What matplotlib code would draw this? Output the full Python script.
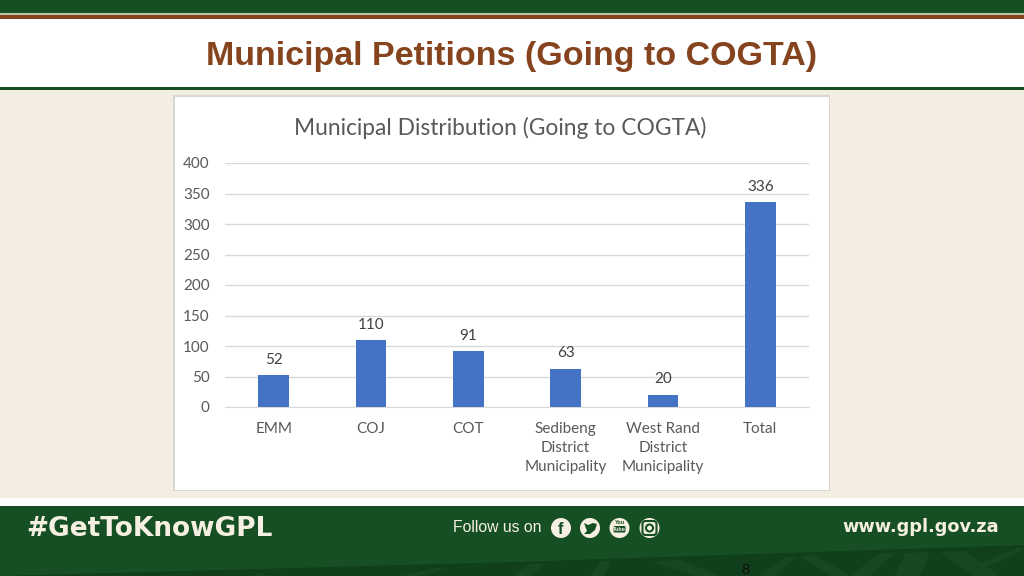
#!/usr/bin/env python

"""Municipal petitions slide: bar chart inside a green and beige slide frame."""

import matplotlib
matplotlib.use("Agg")
import matplotlib.pyplot as plt
from matplotlib.patches import Rectangle, Circle, Polygon, FancyBboxPatch

categories = ["EMM", "COJ", "COT", "Sedibeng\nDistrict\nMunicipality",
              "West Rand\nDistrict\nMunicipality", "Total"]
petitions = [52, 110, 91, 63, 20, 336]
y_ticks = [0, 50, 100, 150, 200, 250, 300, 350, 400]

GREEN = "#174f25"
DARK_GREEN = "#0f3f1b"
PATTERN = "#154822"
BROWN = "#85431e"
BEIGE = "#f4ede1"
CREAM = "#f5f0e1"
GREY = "#595959"
W, H = 1024, 576

fig = plt.figure(figsize=(10.24, 5.76), dpi=100, facecolor="white")

# slide frame, drawn in pixel coordinates
bg = fig.add_axes([0, 0, 1, 1])
bg.set_xlim(0, W)
bg.set_ylim(H, 0)
bg.axis("off")

def band(x, y, w, h, color, **kw):
    bg.add_patch(Rectangle((x, y), w, h, facecolor=color, edgecolor="none", **kw))

band(0, 0, W, 13, GREEN)
band(0, 13, W, 1.5, "#b9c4a8")
band(0, 14.5, W, 4.5, BROWN)
band(0, 87, W, 3, GREEN)
band(0, 90, W, 408, BEIGE)
band(0, 506, W, 70, GREEN)
bg.add_patch(Polygon([(0, 576), (512, 562), (1024, 545), (1024, 576)],
                     facecolor=DARK_GREEN, edgecolor="none"))
band(173, 95, 657, 396, "#d9d6d2")
band(174.5, 96.5, 654, 393, "white")

# faint pattern in the dark footer strip
stripes = [[(250, 576), (262, 573), (268, 576)],
           [(400, 576), (430, 569), (450, 567), (420, 576)],
           [(512, 576), (530, 564), (545, 564), (530, 576)],
           [(590, 576), (600, 561), (612, 561), (603, 576)],
           [(650, 562), (680, 560), (720, 576), (695, 576)],
           [(760, 576), (785, 557), (795, 557), (775, 576)],
           [(800, 556), (815, 555), (850, 576), (832, 576)],
           [(850, 576), (880, 553), (895, 553), (870, 576)],
           [(895, 576), (905, 553), (930, 552), (920, 576)],
           [(940, 552), (965, 551), (1000, 576), (975, 576)],
           [(975, 565), (1020, 547), (1024, 549), (985, 568)]]
for pts in stripes:
    bg.add_patch(Polygon(pts, facecolor=PATTERN, edgecolor="none"))

bg.text(512, 57, "Municipal Petitions (Going to COGTA)", ha="center", va="center",
        fontsize=24.5, fontweight="bold", family="Liberation Sans", color=BROWN)
bg.text(26, 528.5, "#GetToKnowGPL", ha="left", va="center", fontsize=19,
        fontweight="bold", family="DejaVu Sans", color=CREAM)
bg.text(453, 528, "Follow us on", ha="left", va="center", fontsize=11.3,
        family="Liberation Sans", color=CREAM)
bg.text(842, 527, "www.gpl.gov.za", ha="left", va="center", fontsize=12.8,
        fontweight="bold", family="DejaVu Sans", color=CREAM)
bg.text(746, 570, "8", ha="center", va="center", fontsize=11,
        family="Liberation Sans", color="#111111")

# social icons
for cx in [561, 590, 619.5, 649.5]:
    bg.add_patch(Circle((cx, 528), 10, facecolor=CREAM, edgecolor="none"))
bg.text(561, 529, "f", ha="center", va="center", fontsize=12, fontweight="bold",
        family="Liberation Sans", color=GREEN)
bg.add_patch(Polygon([(584, 523), (588, 525), (593, 523), (597, 524), (595, 530),
                      (590, 534), (584, 534), (587, 531)],
                     facecolor=GREEN, edgecolor="none"))
bg.add_patch(FancyBboxPatch((613.5, 526), 12, 6.5, boxstyle="round,pad=0,rounding_size=1.5",
                            facecolor=GREEN, edgecolor="none"))
bg.text(619.5, 522.5, "You", ha="center", va="center", fontsize=4, fontweight="bold",
        family="Liberation Sans", color=GREEN)
bg.text(619.5, 529.2, "Tube", ha="center", va="center", fontsize=4, fontweight="bold",
        family="Liberation Sans", color=CREAM)
bg.add_patch(FancyBboxPatch((642.5, 521), 14, 14, boxstyle="round,pad=0,rounding_size=3",
                            facecolor=CREAM, edgecolor=GREEN, linewidth=1.5))
bg.add_patch(Circle((649.5, 528), 3.5, facecolor=CREAM, edgecolor=GREEN, linewidth=1.5))

# the chart itself
ax = fig.add_axes([225 / W, 1 - 407 / H, 584 / W, 244 / H])
ax.patch.set_alpha(0)
positions = range(len(categories))
bars = ax.bar(positions, petitions, width=0.315, color="#4472c4", zorder=3)
ax.bar_label(bars, labels=[str(v) for v in petitions], padding=6, fontsize=11,
             family="Lato", color="#404040")
ax.set_xlim(-0.5, 5.5)
ax.set_ylim(0, 400)
ax.set_yticks(y_ticks)
ax.set_xticks(list(positions))
ax.set_xticklabels(categories, linespacing=1.45)
ax.tick_params(length=0, labelsize=11, labelcolor=GREY)
ax.tick_params(axis="x", pad=11)
ax.tick_params(axis="y", pad=11)
for label in ax.get_xticklabels() + ax.get_yticklabels():
    label.set_family("Lato")
ax.grid(axis="y", color="#d9d9d9", linewidth=1, zorder=0)
for side in ["top", "right", "left"]:
    ax.spines[side].set_visible(False)
ax.spines["bottom"].set_color("#d9d9d9")

bg.text(500.5, 128, "Municipal Distribution (Going to COGTA)", ha="center", va="center",
        fontsize=16.4, family="Lato", color=GREY)

fig.savefig("out.png", dpi=100)
